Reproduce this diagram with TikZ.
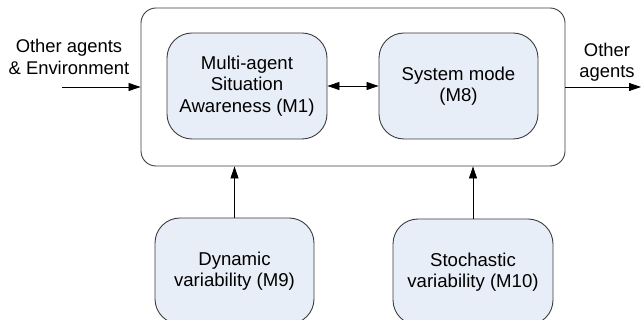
\documentclass[tikz,border=0pt]{standalone}
\usepackage{fontspec}
\setmainfont{Liberation Sans}
\usetikzlibrary{arrows.meta}
\definecolor{boxfill}{RGB}{232,238,247}
\definecolor{boxline}{RGB}{60,60,60}
\tikzset{
  module/.style={draw=boxline, line width=0.9pt, fill=boxfill, rounded corners=25pt,
    minimum width=160pt, minimum height=106pt, align=center, inner sep=0pt,
    font=\fontsize{18.6}{21.3}\selectfont},
  frame/.style={draw=boxline, line width=0.9pt, rounded corners=15pt,
    minimum width=424pt, minimum height=158pt, inner sep=0pt},
  label/.style={align=center, inner sep=0pt, font=\fontsize{18.4}{21.3}\selectfont},
  flow/.style={line width=0.8pt, -{Triangle[length=12pt,width=8pt]}},
  bothflow/.style={line width=0.8pt, {Triangle[length=12pt,width=8pt]}-{Triangle[length=12pt,width=8pt]}}
}
\begin{document}
\begin{tikzpicture}[x=1pt,y=-1pt]
  \useasboundingbox (0,0) rectangle (641,320);
  \begin{scope}
    \clip (0,0) rectangle (641,320);
    % enclosing agent block
    \node[frame] (agent) at (353,87) {};
    % inner modules
    \node[module] (m1) at (247,86) {Multi-agent\\Situation\\Awareness (M1)};
    \node[module, minimum width=159pt] (m8) at (458.5,86) {System mode\\(M8)};
    % external influences
    \node[module, minimum width=159pt] (m9) at (234.5,271) {Dynamic\\variability (M9)};
    \node[module] (m10) at (473,272) {Stochastic\\variability (M10)};
    % side labels
    \node[label] (inlbl) at (69,57) {Other agents\\\& Environment};
    \node[label] (outlbl) at (607,62) {Other\\agents};
    % connectors
    \coordinate (src) at (62,87);
    \coordinate (dst) at (641,87);
    \draw[flow] (src) -- (agent.west);
    \draw[flow] (agent.east) -- (dst);
    \draw[bothflow] (m1.east) -- (m8.west);
    \draw[flow] (m9.north) -- (m9.north |- agent.south);
    \draw[flow] (m10.north) -- (m10.north |- agent.south);
  \end{scope}
\end{tikzpicture}
\end{document}
